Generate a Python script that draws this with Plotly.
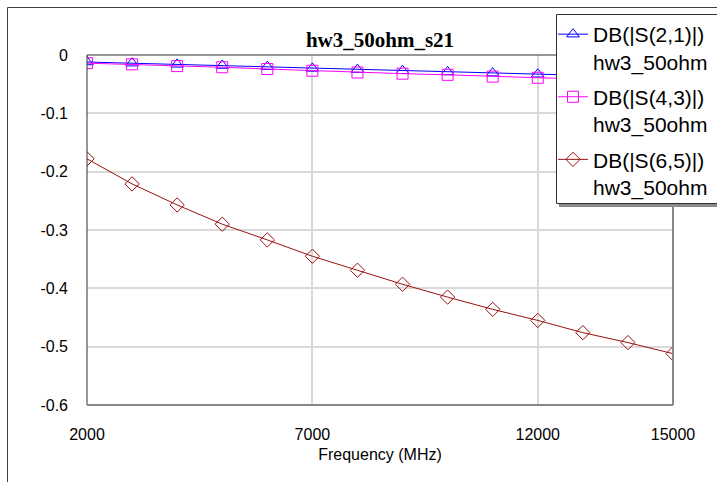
import plotly.graph_objects as go

freq = [2000, 3000, 4000, 5000, 6000, 7000, 8000, 9000, 10000, 11000, 12000, 13000, 14000, 15000]
s21 = [-0.012, -0.014, -0.016, -0.018, -0.020, -0.023, -0.025, -0.027, -0.029, -0.031, -0.033, -0.035, -0.037, -0.039]
s43 = [-0.014, -0.016, -0.019, -0.021, -0.024, -0.027, -0.030, -0.032, -0.034, -0.037, -0.039, -0.041, -0.043, -0.045]
s65 = [-0.178, -0.221, -0.257, -0.290, -0.317, -0.345, -0.369, -0.393, -0.415, -0.436, -0.455, -0.476, -0.493, -0.512]

names = ["DB(|S(2,1)|)<br>hw3_50ohm", "DB(|S(4,3)|)<br>hw3_50ohm", "DB(|S(6,5)|)<br>hw3_50ohm"]
colors = ["#0000ff", "#ff00ff", "#9a1010"]
symbols = ["triangle-up-open", "square-open", "diamond-open"]
series = [s21, s43, s65]

xticks = [2000, 7000, 12000, 15000]
yticks = [0, -0.1, -0.2, -0.3, -0.4, -0.5, -0.6]
yticktext = ["0", "-0.1", "-0.2", "-0.3", "-0.4", "-0.5", "-0.6"]

W, H = 717, 482
L, R, T, B = 87, 44, 55, 77
PW, PH = W - L - R, H - T - B

def px(X):
    return (X - L) / PW

def py(Y):
    return (H - B - Y) / PH

fig = go.Figure()
for i in range(3):
    fig.add_trace(go.Scatter(
        x=freq, y=series[i], name=names[i], mode="lines+markers",
        legendgroup=f"g{i}",
        line=dict(color=colors[i], width=1),
        marker=dict(symbol=symbols[i], size=11, color=colors[i], line=dict(width=1, color=colors[i])),
    ))

axfont = dict(family="Liberation Sans, Arial, sans-serif", size=16, color="#000000")

fig.update_layout(
    width=W, height=H,
    margin=dict(l=L, r=R, t=T, b=B, autoexpand=False),
    paper_bgcolor="white", plot_bgcolor="white",
    title=dict(text="<b>hw3_50ohm_s21</b>", x=px(380), xref="paper", xanchor="center",
               y=1 - 40 / H, yanchor="middle",
               font=dict(family="Liberation Serif, Times New Roman, serif", size=21, color="#000000")),
    xaxis=dict(range=[2000, 15000], tickvals=xticks, ticktext=[str(v) for v in xticks],
               showgrid=True, gridcolor="#d9d9d9", gridwidth=1.5, zeroline=False, ticks="",
               showline=False, tickfont=axfont, ticklabelstandoff=18,
               title=dict(text="Frequency (MHz)", font=axfont, standoff=6)),
    yaxis=dict(range=[-0.6, 0], tickvals=yticks, ticktext=yticktext,
               showgrid=True, gridcolor="#d9d9d9", gridwidth=1.5, zeroline=False, ticks="",
               showline=False, tickfont=axfont, ticklabelstandoff=18),
    legend=dict(x=px(553), y=py(14), xanchor="left", yanchor="top",
                bgcolor="rgba(0,0,0,0)", borderwidth=0, valign="top",
                font=dict(family="Liberation Sans, Arial, sans-serif", size=21, color="#000000"),
                traceorder="grouped", tracegroupgap=5, itemwidth=30),
    showlegend=True,
)

shapes = [
    # outer frame
    dict(type="rect", xref="paper", yref="paper", x0=px(7.5), x1=px(730), y0=py(495), y1=py(7.5),
         line=dict(color="#404040", width=1), layer="below"),
    # plot area border (dark top/left)
    dict(type="line", xref="paper", yref="paper", x0=0, x1=1, y0=1, y1=1, line=dict(color="#303030", width=1), layer="above"),
    dict(type="line", xref="paper", yref="paper", x0=0, x1=0, y0=0, y1=1, line=dict(color="#303030", width=1), layer="above"),
    # gray right/bottom
    dict(type="line", xref="paper", yref="paper", x0=1, x1=1, y0=0, y1=1, line=dict(color="#888888", width=2), layer="above"),
    dict(type="line", xref="paper", yref="paper", x0=0, x1=1, y0=0, y1=0, line=dict(color="#888888", width=2), layer="above"),
    # legend shadow
    dict(type="rect", xref="paper", yref="paper", x0=px(559), x1=px(740), y0=py(207), y1=py(17),
         line=dict(width=0), fillcolor="#8a8a8a", layer="above"),
    # legend box
    dict(type="rect", xref="paper", yref="paper", x0=px(556.5), x1=px(740), y0=py(203.5), y1=py(14.5),
         line=dict(color="#303030", width=1), fillcolor="white", layer="above"),
]
fig.update_layout(shapes=shapes)

fig.write_html("out.html", config={"displayModeBar": False},
               post_script="document.body.style.margin='0';document.body.style.overflow='hidden';")
